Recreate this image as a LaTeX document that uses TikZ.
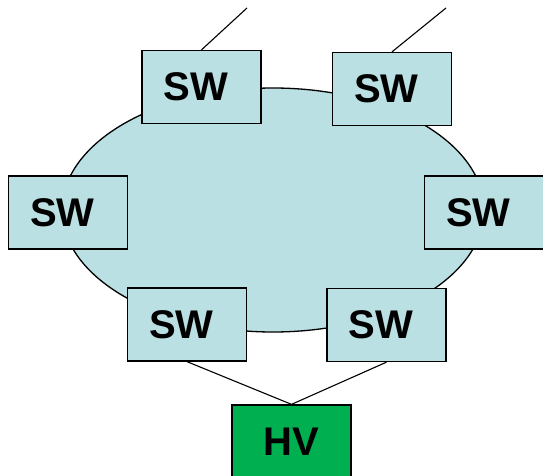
\documentclass[tikz,border=0pt]{standalone}
\usepackage{fontspec}
\setmainfont{Liberation Sans}
\begin{document}
\begin{tikzpicture}[x=1pt,y=-1pt,
  swbox/.style={draw=black, line width=1.3pt, fill=cloudblue, minimum width=119pt, minimum height=73pt, inner sep=0pt, font=\fontsize{40}{42}\selectfont\bfseries},
  hvbox/.style={draw=black, line width=1.3pt, fill=hvgreen, minimum width=119pt, minimum height=74pt, inner sep=0pt, font=\fontsize{40}{42}\selectfont\bfseries},
  link/.style={draw=black, line width=1.1pt}]
\definecolor{cloudblue}{HTML}{BAE0E3}
\definecolor{hvgreen}{HTML}{00B050}
\newcommand{\swtext}{SW\kern11pt}
\useasboundingbox (0,0) rectangle (543,476);
\draw[line width=1.3pt, fill=cloudblue] (273,210) ellipse [x radius=211, y radius=122];
\coordinate (t1) at (247,8);
\coordinate (t2) at (446,8);
\node[swbox] (swtl) at (201.5,87) {\swtext};
\node[swbox] (swtr) at (392,89) {\swtext};
\node[swbox] (swml) at (68,212.5) {\swtext};
\node[swbox] (swmr) at (484,212.5) {\swtext};
\node[swbox] (swbl) at (187,324.5) {\swtext};
\node[swbox] (swbr) at (386.5,325) {\swtext};
\node[hvbox] (hv) at (291.5,442) {HV};
\draw[link] (t1) -- (swtl.north);
\draw[link] (t2) -- (swtr.north);
\draw[link] (swbl.south) -- (hv.north);
\draw[link] (swbr.south) -- (hv.north);
\end{tikzpicture}
\end{document}
